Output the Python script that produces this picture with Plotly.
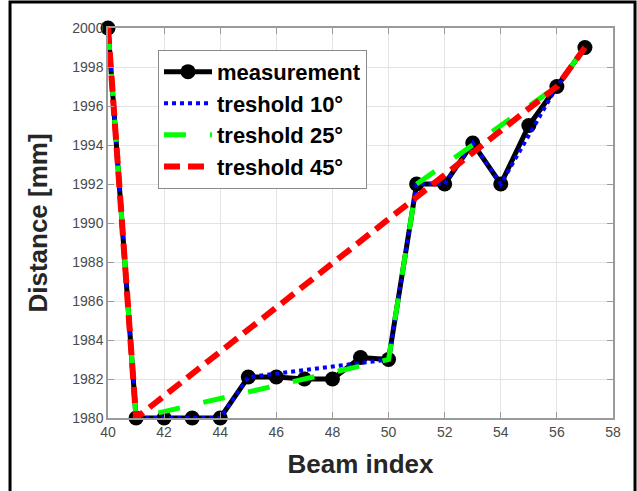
import plotly.graph_objects as go

# Beam distances and simplified profiles at several angle thresholds
beam_idx = [40, 41, 42, 43, 44, 45, 46, 47, 48, 49, 50, 51, 52, 53, 54, 55, 56, 57]
measurement = [2000, 1980, 1980, 1980, 1980, 1982.1, 1982.1, 1982.0, 1982.0, 1983.1,
               1983.0, 1992, 1992, 1994.1, 1992, 1995, 1997, 1999]

t10_idx = [40, 41, 44, 45, 50, 51, 52, 53, 54, 56, 57]
t10_val = [2000, 1980, 1980, 1982.1, 1983.0, 1992, 1992, 1994.1, 1992, 1997, 1999]

t25_idx = [40, 41, 50, 51, 56, 57]
t25_val = [2000, 1980, 1983.0, 1992, 1997, 1999]

t45_idx = [40, 41, 56, 57]
t45_val = [2000, 1980, 1997, 1999]

x_ticks = list(range(40, 59, 2))
y_ticks = list(range(1980, 2001, 2))

fig = go.Figure()
fig.add_trace(go.Scatter(
    x=beam_idx, y=measurement, name="measurement", mode="lines+markers",
    line=dict(color="black", width=5),
    marker=dict(color="black", size=15, symbol="circle"),
    cliponaxis=False,
))
fig.add_trace(go.Scatter(
    x=t10_idx, y=t10_val, name="treshold 10°", mode="lines",
    line=dict(color="#0000ff", width=4, dash="4px,4px"),
    cliponaxis=False,
))
fig.add_trace(go.Scatter(
    x=t25_idx, y=t25_val, name="treshold 25°", mode="lines",
    line=dict(color="#00ff00", width=5, dash="22px,24px"),
    cliponaxis=False,
))
fig.add_trace(go.Scatter(
    x=t45_idx, y=t45_val, name="treshold 45°", mode="lines",
    line=dict(color="#ff0000", width=6, dash="16px,8px"),
    cliponaxis=False,
))

axis_common = dict(
    showgrid=True, gridcolor="#e3e3e3", gridwidth=1,
    showline=True, linecolor="#9a9a9a", linewidth=1.5, mirror="ticks",
    ticks="inside", ticklen=6, tickcolor="#9a9a9a",
    tickfont=dict(family="Liberation Sans, Arial", size=14, color="#4a4a4a"),
    zeroline=False,
)

title_font = dict(family="Liberation Sans, Arial", size=26, color="#262626")

fig.update_xaxes(
    range=[40, 58], tickvals=x_ticks,
    title=dict(text="<b>Beam index</b>", font=title_font, standoff=16),
    **axis_common,
)
fig.update_yaxes(
    range=[1980, 2000], tickvals=y_ticks,
    title=dict(text="<b>Distance [mm]</b>", font=title_font, standoff=17),
    **axis_common,
)

fig.update_layout(
    width=637, height=491,
    margin=dict(l=108, r=24, t=28, b=73),
    paper_bgcolor="white", plot_bgcolor="white",
    legend=dict(
        x=0.099, y=0.944, xanchor="left", yanchor="top",
        bgcolor="white", bordercolor="#8a8a8a", borderwidth=1,
        font=dict(family="Liberation Sans, Arial", size=22, color="black", weight="bold"),
        itemwidth=48, tracegroupgap=0,
    ),
    shapes=[dict(
        type="rect", xref="paper", yref="paper",
        x0=-0.194, x1=1.0436, y0=-0.3, y1=1.0667,
        line=dict(color="black", width=3), fillcolor="rgba(0,0,0,0)", layer="above",
    )],
    showlegend=True,
)

fig.write_html("out.html")
